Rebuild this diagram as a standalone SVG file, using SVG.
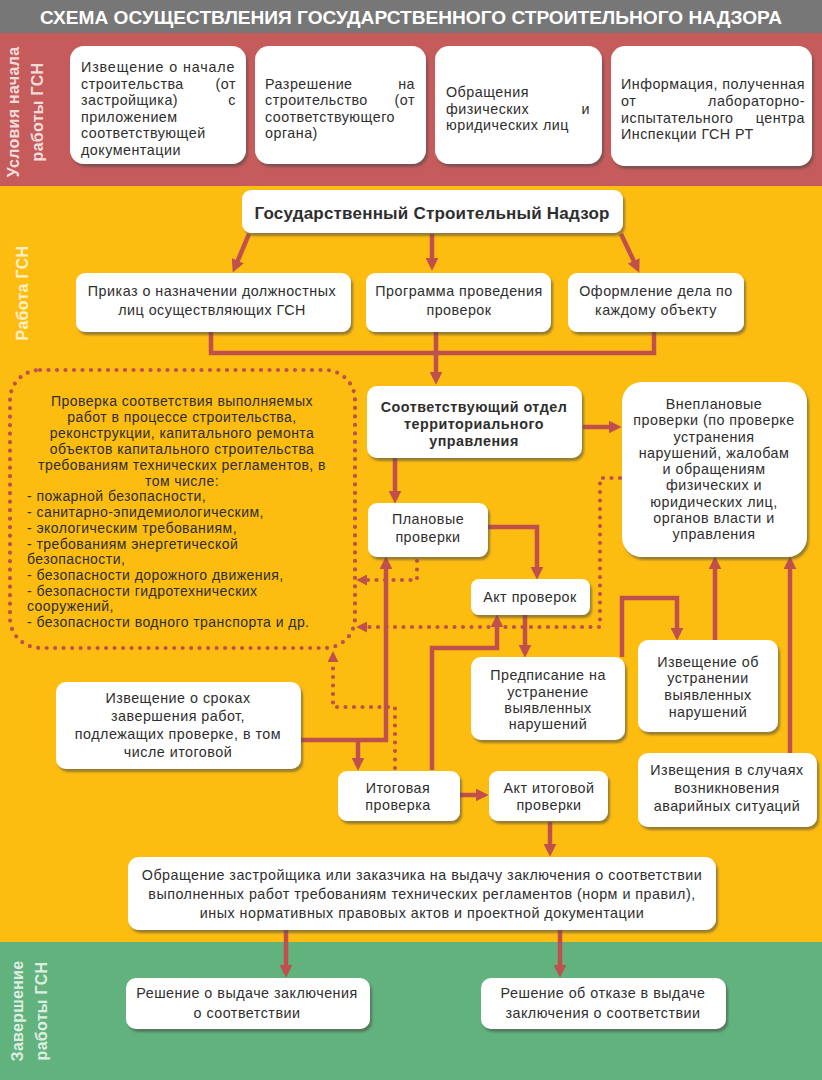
<svg xmlns="http://www.w3.org/2000/svg" width="822" height="1080" viewBox="0 0 822 1080">
<defs>
<style>
text{font-family:"Liberation Sans",Arial,"DejaVu Sans",sans-serif;font-size:14.3px;fill:#2e2e2e;letter-spacing:0.5px}
.c{text-anchor:middle}
.r{text-anchor:end}
.b{font-weight:bold}
.lbl{font-size:16px;font-weight:bold;fill:#ffffff;fill-opacity:0.8;text-anchor:middle;letter-spacing:0.3px}
.big{font-size:14px;letter-spacing:0.45px}
.box{fill:#ffffff;filter:url(#sh)}
.ln{fill:none;stroke:#c0504d;stroke-width:4.5;marker-end:url(#ah)}
.pl{fill:none;stroke:#c0504d;stroke-width:4.5}
.dt{fill:none;stroke:#c0504d;stroke-width:4.2;stroke-linecap:round;stroke-dasharray:0 8.5}
.dta{fill:none;stroke:#c0504d;stroke-width:4.2;stroke-linecap:round;stroke-dasharray:0 8.5;marker-end:url(#ahd)}
</style>
<filter id="sh" x="-10%" y="-10%" width="125%" height="135%">
<feDropShadow dx="2" dy="3" stdDeviation="1.3" flood-color="#4a4a4a" flood-opacity="0.55"/>
</filter>
<marker id="ah" viewBox="0 0 12 12" refX="4" refY="6" markerWidth="13" markerHeight="13" markerUnits="userSpaceOnUse" orient="auto">
<path d="M0,0 L12,6 L0,12 z" fill="#c0504d"/>
</marker>
<marker id="ahd" viewBox="0 0 10 10" refX="1" refY="5" markerWidth="11" markerHeight="11" markerUnits="userSpaceOnUse" orient="auto">
<path d="M0,0 L10,5 L0,10 z" fill="#c0504d"/>
</marker>
</defs>

<g id="bands">
<rect x="0" y="0" width="822" height="33" fill="#777777"/>
<rect x="0" y="33" width="822" height="153" fill="#c55b5b"/>
<rect x="0" y="186" width="822" height="756" fill="#fcbc10"/>
<rect x="0" y="942" width="822" height="138" fill="#61b27c"/>
<text x="411" y="24" class="c b" style="font-size:17.5px;fill:#ffffff;letter-spacing:0" textLength="742" lengthAdjust="spacingAndGlyphs">СХЕМА ОСУЩЕСТВЛЕНИЯ ГОСУДАРСТВЕННОГО СТРОИТЕЛЬНОГО НАДЗОРА</text>
<text class="lbl" transform="translate(19,112) rotate(-90)">Условия начала</text>
<text class="lbl" transform="translate(43,112) rotate(-90)">работы ГСН</text>
<text class="lbl" transform="translate(28,293) rotate(-90)">Работа ГСН</text>
<text class="lbl" transform="translate(23,1011) rotate(-90)">Завершение</text>
<text class="lbl" transform="translate(47,1011) rotate(-90)">работы ГСН</text>
</g>

<g id="connectors">
<path class="ln" d="M249,234 L236.1,264.6"/>
<path class="ln" d="M432,234 V262"/>
<path class="ln" d="M621,234 L635.6,264.8"/>
<path class="pl" d="M211,332 V353 H654 V332"/>
<path class="ln" d="M436,332 V376"/>
<path class="ln" d="M583,427 H613"/>
<path class="ln" d="M395,458 V495"/>
<path class="ln" d="M488,527 H537 V571"/>
<path class="ln" d="M300,740 H386 V565"/>
<path class="ln" d="M358,740 V762"/>
<path class="ln" d="M432,770 V648 H497 V623"/>
<path class="ln" d="M525,615 V649"/>
<path class="ln" d="M622,657 V598 H677 V632"/>
<path class="ln" d="M715,640 V565"/>
<path class="ln" d="M790,753 V565"/>
<path class="ln" d="M460,795 H480"/>
<path class="ln" d="M550,822 V848"/>
<path class="ln" d="M286,930 V969"/>
<path class="ln" d="M560,930 V969"/>
<path class="dta" d="M417,561 V580 H366"/>
<path class="dta" d="M620,478 H600 V627 H366"/>
<path class="dta" d="M395,768 V707 H333 V661"/>
</g>

<g id="n-izv-nachalo">
<rect class="box" x="70" y="46" width="176" height="118" rx="14"/>
<text x="81" y="72" textLength="154">Извещение о начале</text>
<text x="81" y="89">строительства</text><text x="236" y="89" class="r">(от</text>
<text x="81" y="105">застройщика)</text><text x="236" y="105" class="r">с</text>
<text x="81" y="122">приложением</text>
<text x="81" y="138">соответствующей</text>
<text x="81" y="155">документации</text>
</g>

<g id="n-razreshenie">
<rect class="box" x="255" y="46" width="171" height="118" rx="14"/>
<text x="265" y="89">Разрешение</text><text x="415" y="89" class="r">на</text>
<text x="265" y="105">строительство</text><text x="415" y="105" class="r">(от</text>
<text x="265" y="122">соответствующего</text>
<text x="265" y="138">органа)</text>
</g>

<g id="n-obrashenia">
<rect class="box" x="435" y="46" width="167" height="118" rx="14"/>
<text x="446" y="97">Обращения</text>
<text x="446" y="114">физических</text><text x="590" y="114" class="r">и</text>
<text x="446" y="130">юридических лиц</text>
</g>

<g id="n-informacia">
<rect class="box" x="611" y="46" width="201" height="120" rx="14"/>
<text x="621" y="89" textLength="184">Информация, полученная</text>
<text x="621" y="106">от</text><text x="805" y="106" class="r">лабораторно-</text>
<text x="621" y="123">испытательного</text><text x="805" y="123" class="r">центра</text>
<text x="621" y="139">Инспекции ГСН РТ</text>
</g>

<g id="n-gsn">
<rect class="box" x="242" y="190" width="381" height="43" rx="9"/>
<text x="432" y="219" class="c b" style="font-size:17px;letter-spacing:0.2px">Государственный Строительный Надзор</text>
</g>

<g id="n-prikaz">
<rect class="box" x="76" y="273" width="275" height="59" rx="9"/>
<text x="212" y="296" class="c">Приказ о назначении должностных</text>
<text x="212" y="315" class="c">лиц осуществляющих ГСН</text>
</g>

<g id="n-programma">
<rect class="box" x="366" y="273" width="185" height="59" rx="9"/>
<text x="459" y="296" class="c">Программа проведения</text>
<text x="459" y="315" class="c">проверок</text>
</g>

<g id="n-oformlenie">
<rect class="box" x="568" y="273" width="176" height="59" rx="9"/>
<text x="656" y="296" class="c">Оформление дела по</text>
<text x="656" y="315" class="c">каждому объекту</text>
</g>

<g id="n-proverka-sootv">
<rect class="dt" x="10" y="370" width="345" height="278" rx="30"/>
<text class="big c" x="182" y="406">Проверка соответствия выполняемых</text>
<text class="big c" x="182" y="422">работ в процессе строительства,</text>
<text class="big c" x="182" y="438">реконструкции, капитального ремонта</text>
<text class="big c" x="182" y="454">объектов капитального строительства</text>
<text class="big c" x="182" y="470">требованиям технических регламентов, в</text>
<text class="big c" x="182" y="486">том числе:</text>
<text class="big" x="27" y="501">- пожарной безопасности,</text>
<text class="big" x="27" y="517">- санитарно-эпидемиологическим,</text>
<text class="big" x="27" y="533">- экологическим требованиям,</text>
<text class="big" x="27" y="549">- требованиям энергетической</text>
<text class="big" x="27" y="564">безопасности,</text>
<text class="big" x="27" y="580">- безопасности дорожного движения,</text>
<text class="big" x="27" y="596">- безопасности гидротехнических</text>
<text class="big" x="27" y="611">сооружений,</text>
<text class="big" x="27" y="627">- безопасности водного транспорта и др.</text>
</g>

<g id="n-otdel">
<rect class="box" x="367" y="386" width="215" height="72" rx="10"/>
<text x="474" y="412" class="c b">Соответствующий отдел</text>
<text x="474" y="429" class="c b">территориального</text>
<text x="474" y="446" class="c b">управления</text>
</g>

<g id="n-vneplanovye">
<rect class="box" x="622" y="382" width="185" height="175" rx="20"/>
<text x="714" y="409" class="c">Внеплановые</text>
<text x="714" y="425" class="c">проверки (по проверке</text>
<text x="714" y="442" class="c">устранения</text>
<text x="714" y="458" class="c">нарушений, жалобам</text>
<text x="714" y="474" class="c">и обращениям</text>
<text x="714" y="490" class="c">физических и</text>
<text x="714" y="507" class="c">юридических лиц,</text>
<text x="714" y="523" class="c">органов власти и</text>
<text x="714" y="539" class="c">управления</text>
</g>

<g id="n-planovye">
<rect class="box" x="368" y="503" width="120" height="54" rx="9"/>
<text x="428" y="524" class="c">Плановые</text>
<text x="428" y="542" class="c">проверки</text>
</g>

<g id="n-akt">
<rect class="box" x="471" y="579" width="119" height="36" rx="8"/>
<text x="530" y="602" class="c">Акт проверок</text>
</g>

<g id="n-predpisanie">
<rect class="box" x="471" y="657" width="154" height="83" rx="10"/>
<text x="548" y="680" class="c">Предписание на</text>
<text x="548" y="697" class="c">устранение</text>
<text x="548" y="713" class="c">выявленных</text>
<text x="548" y="729" class="c">нарушений</text>
</g>

<g id="n-izv-ustranenie">
<rect class="box" x="638" y="640" width="140" height="92" rx="10"/>
<text x="708" y="667" class="c">Извещение об</text>
<text x="708" y="683" class="c">устранении</text>
<text x="708" y="700" class="c">выявленных</text>
<text x="708" y="717" class="c">нарушений</text>
</g>

<g id="n-izv-sroki">
<rect class="box" x="56" y="682" width="245" height="87" rx="10"/>
<text x="178" y="703" class="c">Извещение о сроках</text>
<text x="178" y="721" class="c">завершения работ,</text>
<text x="178" y="739" class="c">подлежащих проверке, в том</text>
<text x="178" y="757" class="c">числе итоговой</text>
</g>

<g id="n-avarii">
<rect class="box" x="638" y="753" width="179" height="74" rx="10"/>
<text x="727" y="775" class="c">Извещения в случаях</text>
<text x="727" y="793" class="c">возникновения</text>
<text x="727" y="811" class="c">аварийных ситуаций</text>
</g>

<g id="n-itogovaya">
<rect class="box" x="338" y="771" width="122" height="50" rx="9"/>
<text x="398" y="793" class="c">Итоговая</text>
<text x="398" y="810" class="c">проверка</text>
</g>

<g id="n-akt-itog">
<rect class="box" x="489" y="771" width="119" height="50" rx="9"/>
<text x="549" y="793" class="c">Акт итоговой</text>
<text x="549" y="810" class="c">проверки</text>
</g>

<g id="n-obrashenie">
<rect class="box" x="128" y="857" width="588" height="73" rx="11"/>
<text x="422" y="880" class="c">Обращение застройщика или заказчика на выдачу заключения о соответствии</text>
<text x="422" y="899" class="c">выполненных работ требованиям технических регламентов (норм и правил),</text>
<text x="422" y="918" class="c">иных нормативных правовых актов и проектной документации</text>
</g>

<g id="n-reshenie-vydacha">
<rect class="box" x="126" y="978" width="244" height="51" rx="10"/>
<text x="247" y="998" class="c">Решение о выдаче заключения</text>
<text x="247" y="1018" class="c">о соответствии</text>
</g>

<g id="n-reshenie-otkaz">
<rect class="box" x="481" y="978" width="245" height="51" rx="10"/>
<text x="603" y="998" class="c">Решение об отказе в выдаче</text>
<text x="603" y="1018" class="c">заключения о соответствии</text>
</g>
</svg>
